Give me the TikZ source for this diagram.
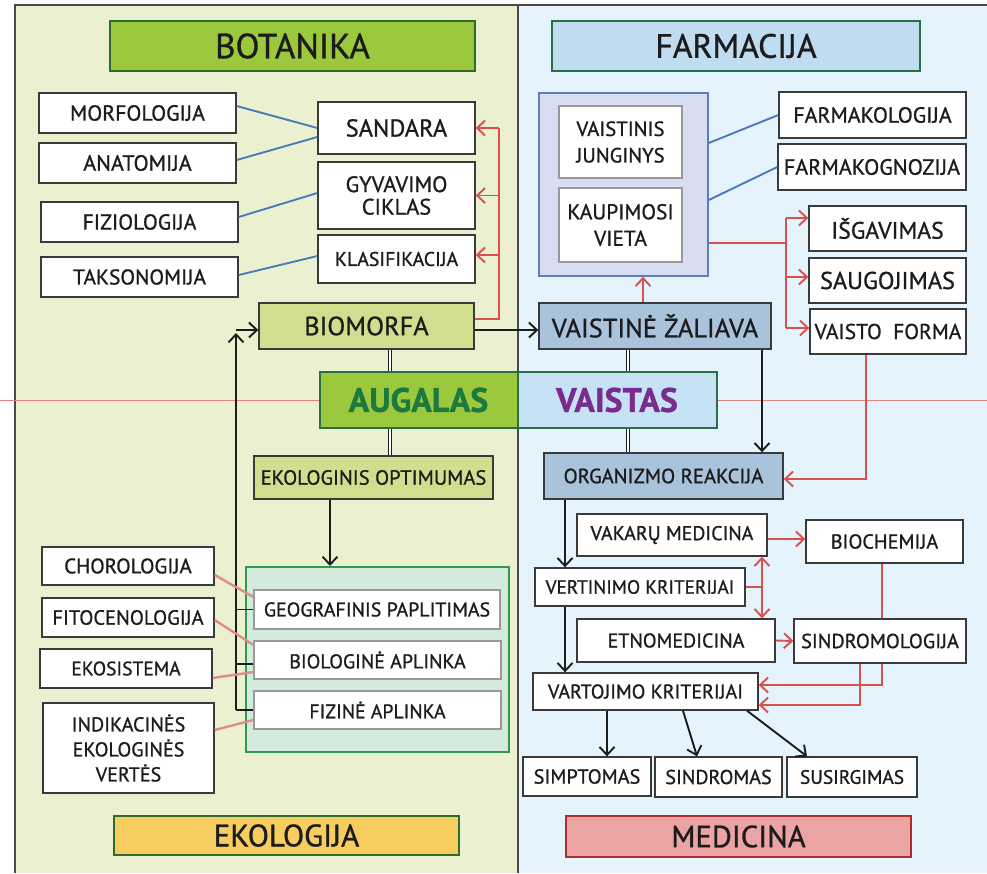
\documentclass[tikz,border=0pt]{standalone}
\usepackage{fontspec}
\setmainfont{PT Sans}[FakeBold=0.9]
\usepackage{graphicx}
\usetikzlibrary{arrows.meta,calc}
\definecolor{lbg}{HTML}{EBF1D0}
\definecolor{rbg}{HTML}{E5F3FC}
\definecolor{frame}{HTML}{4A4A4A}
\definecolor{bdr}{HTML}{3A3A3A}
\definecolor{txt}{HTML}{1C1C1C}
\definecolor{botf}{HTML}{9BC83C}
\definecolor{botd}{HTML}{2F6A2F}
\definecolor{farf}{HTML}{BFDCF0}
\definecolor{gdk}{HTML}{2A6E45}
\definecolor{ekof}{HTML}{F7CD5F}
\definecolor{medf}{HTML}{EBA3A3}
\definecolor{medd}{HTML}{A83030}
\definecolor{palg}{HTML}{CFDF8E}
\definecolor{steel}{HTML}{A9C3DC}
\definecolor{vaif}{HTML}{C6E2F5}
\definecolor{augt}{HTML}{1B7A3C}
\definecolor{vait}{HTML}{7A2C8E}
\definecolor{lav}{HTML}{D8DEF1}
\definecolor{lavd}{HTML}{5F7DB6}
\definecolor{teal}{HTML}{D3EADC}
\definecolor{teald}{HTML}{2F9A4C}
\definecolor{blu}{HTML}{4A7AB8}
\definecolor{rd}{HTML}{D9504C}
\definecolor{pnk}{HTML}{DE8C8C}
\definecolor{ltred}{HTML}{E38080}
\begin{document}
\begin{tikzpicture}[x=1pt,y=-1pt,
  fs/.style 2 args={font=\fontsize{#1}{#2}\selectfont},
  box/.style={draw=bdr,fill=white,line width=1.4pt,inner sep=0pt,align=center,text=txt,fs={20}{22}},
  gbox/.style={box,draw=gray!80,line width=1.2pt},
  ttl/.style={draw,line width=2pt,inner sep=0pt,text=txt},
  sz/.style 2 args={minimum width=#1,minimum height=#2},
  tip/.tip={Straight Barb[length=8pt,width=15pt]},
  blk/.style={draw=txt,line width=1.9pt},
  arr/.style={blk,-tip},
  rl/.style={draw=rd,line width=1.9pt},
  rarr/.style={rl,-tip},
  bl/.style={draw=blu,line width=1.9pt},
  pl/.style={draw=pnk,line width=2.4pt},
  dbl/.style={draw=txt,line width=0.9pt,double=white,double distance=2.6pt},
  big/.style={font={\fontsize{34}{36}\selectfont\bfseries}}
]
\useasboundingbox (0,0) rectangle (987,873);
% panels
\fill[lbg] (15,5) rectangle (518,873);
\fill[rbg] (518,5) rectangle (987,873);
\draw[frame,line width=2pt] (15,873) -- (15,5) -- (987,5);
\draw[frame,line width=2pt] (518,5) -- (518,873);
\draw[ltred,line width=1pt] (0,400) -- (987,400);

% titles
\node[ttl,fill=botf,draw=botd,sz={365}{50},fs={35}{36}] (bot) at (292.5,46) {BOTANIKA};
\node[ttl,fill=farf,draw=gdk,sz={368}{50},fs={33.7}{35}] (far) at (736,46) {FARMACIJA};
\node[ttl,fill=ekof,draw=botd,sz={345}{39},fs={31}{32}] (eko) at (286.5,835.5) {EKOLOGIJA};
\node[ttl,fill=medf,draw=medd,sz={345}{41},fs={30.6}{32}] (med) at (738.5,836.5) {MEDICINA};

% botany boxes
\node[box,sz={197}{40},fs={21.8}{24}] (morf) at (137.5,113) {MORFOLOGIJA};
\node[box,sz={197}{40},fs={22}{24}] (anat) at (137.5,163) {ANATOMIJA};
\node[box,sz={197}{40},fs={21.7}{24}] (fiz) at (139.5,222) {FIZIOLOGIJA};
\node[box,sz={197}{40},fs={21.4}{24}] (taks) at (139.5,277) {TAKSONOMIJA};
\node[box,sz={157}{52},fs={24.4}{26}] (sand) at (396.5,128) {SANDARA};
\node[box,sz={157}{67},fs={22.3}{22.5}] (gyv) at (396.5,195.5) {GYVAVIMO\\CIKLAS};
\node[box,sz={157}{48},fs={19.8}{22}] (klas) at (396.5,259) {KLASIFIKACIJA};
\node[box,fill=palg,sz={215}{46},fs={26.3}{28}] (biom) at (366.5,326) {BIOMORFA};

% centre
\node[box,fill=botf,draw=gdk,line width=2pt,sz={198}{56},text=augt,big] (aug) at (418.5,400) {AUGALAS};
\node[box,fill=vaif,draw=gdk,line width=2pt,sz={199}{56},text=vait,big] (vai) at (617,400) {VAISTAS};
\node[box,fill=palg,sz={239}{43},fs={20.5}{22}] (ekop) at (373.5,477.5) {EKOLOGINIS OPTIMUMAS};

% ecology
\node[draw=teald,fill=teal,line width=2pt,sz={263}{185}] (ekocont) at (377.5,659.5) {};
\node[gbox,sz={246}{39},fs={19.9}{22}] (geo) at (377,609.5) {GEOGRAFINIS PAPLITIMAS};
\node[gbox,sz={247}{38},fs={19.9}{22}] (bio) at (377.5,660) {BIOLOGINĖ APLINKA};
\node[gbox,sz={247}{38},fs={19.7}{22}] (fizap) at (377.5,710) {FIZINĖ APLINKA};
\node[box,sz={172}{38},fs={21}{23}] (chor) at (128,566) {CHOROLOGIJA};
\node[box,sz={172}{39},fs={20.5}{22}] (fito) at (128,617.5) {FITOCENOLOGIJA};
\node[box,sz={172}{39},fs={19.5}{22}] (ekos) at (126,668.5) {EKOSISTEMA};
\node[box,sz={171}{90},fs={20.1}{25}] (indik) at (128.5,748) {INDIKACINĖS\\EKOLOGINĖS\\VERTĖS};

% pharmacy
\node[draw=lavd,fill=lav,line width=1.6pt,sz={169}{183}] (farmcont) at (623.5,184.5) {};
\node[gbox,sz={123}{72},fs={20.6}{26.5}] (vj) at (620.5,142) {VAISTINIS\\JUNGINYS};
\node[gbox,sz={123}{74},fs={21.4}{26.5}] (kv) at (620.5,225) {KAUPIMOSI\\VIETA};
\node[box,sz={187}{46},fs={21.9}{24}] (fkol) at (872.5,115) {FARMAKOLOGIJA};
\node[box,sz={188}{46},fs={22.1}{24}] (fkog) at (872,167) {FARMAKOGNOZIJA};
\node[box,sz={157}{45},fs={23.7}{25}] (isg) at (887.5,228.5) {IŠGAVIMAS};
\node[box,sz={157}{45},fs={24.3}{26}] (saug) at (887.5,280.5) {SAUGOJIMAS};
\node[box,sz={156}{45},fs={21.5}{23}] (vf) at (888,331.5) {VAISTO\ \ FORMA};
\node[box,fill=steel,sz={232}{46},fs={26.4}{28}] (vz) at (655,326) {VAISTINĖ ŽALIAVA};

% medicine
\node[box,fill=steel,sz={239}{46},fs={20.6}{22}] (org) at (663.5,476) {ORGANIZMO REAKCIJA};
\node[box,sz={190}{42},fs={19.9}{22}] (vak) at (672,535) {VAKARŲ MEDICINA};
\node[box,sz={157}{43},fs={20.3}{22}] (bioch) at (884.5,541.5) {BIOCHEMIJA};
\node[box,sz={210}{38},fs={19.2}{21}] (vert) at (640,587) {VERTINIMO KRITERIJAI};
\node[box,sz={198}{43},fs={20}{22}] (etno) at (676,640.5) {ETNOMEDICINA};
\node[box,sz={172}{44},fs={20.3}{22}] (sindl) at (880,641) {SINDROMOLOGIJA};
\node[box,sz={225}{37},fs={19.9}{22}] (vart) at (645.5,691.5) {VARTOJIMO KRITERIJAI};
\node[box,sz={128}{39},fs={20.3}{22}] (simp) at (587,776.5) {SIMPTOMAS};
\node[box,sz={127}{40},fs={20.1}{22}] (sindr) at (718.5,777) {SINDROMAS};
\node[box,sz={130}{40},fs={19.4}{22}] (susi) at (852,777) {SUSIRGIMAS};

% --- connectors: botany
\draw[bl] ([yshift=7pt]morf.east) -- (sand.west);
\draw[bl] ([yshift=3pt]anat.east) -- ([yshift=-9pt]sand.west);
\draw[bl] ([yshift=5pt]fiz.east) -- ([yshift=2.5pt]gyv.west);
\draw[bl] ([yshift=2pt]taks.east) -- ([yshift=3pt]klas.west);
\draw[rl] ([yshift=7pt]biom.east) -- ++(24,0) coordinate (rb) -- (rb |- sand.east);
\draw[rarr] (rb |- sand.east) -- (sand.east);
\draw[rarr] (rb |- gyv.east) -- (gyv.east);
\draw[rarr] ([yshift=4pt]klas.east -| rb) -- ([yshift=4pt]klas.east);
\draw[arr] ([yshift=-4pt]biom.east) -- ([yshift=-4pt]vz.west);
% double links
\draw[dbl] ([xshift=23.5pt]biom.south) -- ([xshift=23.5pt]biom.south |- aug.north);
\draw[dbl] ([xshift=-28.5pt]aug.south) -- ([xshift=-28.5pt]aug.south |- ekop.north);
\draw[dbl] ([xshift=-27pt]vz.south) -- ([xshift=-27pt]vz.south |- vai.north);
\draw[dbl] ([xshift=11pt]vai.south) -- ([xshift=11pt]vai.south |- org.north);
% ecology
\draw[arr] ([xshift=-43.5pt]ekop.south) -- ([xshift=-43.5pt]ekop.south |- ekocont.north);
\coordinate (fbx) at (236,333);
\draw[arr] (fizap.west -| fbx) -- (fbx);
\draw[arr] ([yshift=-4pt]biom.west -| fbx) -- ([yshift=-4pt]biom.west);
\draw[blk] (geo.west -| fbx) -- (geo.west);
\draw[blk] ([yshift=-4pt]bio.west -| fbx) -- ([yshift=-4pt]bio.west);
\draw[blk] (fizap.west -| fbx) -- (fizap.west);
\draw[pl] ([yshift=-9pt]chor.east) -- ([yshift=12.5pt]geo.west);
\draw[pl] ([yshift=-2.5pt]fito.east) -- ([yshift=15pt]bio.west);
\draw[pl] ([yshift=-9.5pt]ekos.east) -- ([yshift=-12pt]bio.west);
\draw[pl] ([yshift=18pt]indik.east) -- ([yshift=-10pt]fizap.west);
% pharmacy
\draw[bl] ([yshift=41.5pt]farmcont.east) -- (fkol.west);
\draw[bl] ([yshift=-15.5pt]farmcont.east) -- (fkog.west);
\draw[rarr] ([xshift=-12pt]vz.north) -- ([xshift=-12pt]vz.north |- farmcont.south);
\draw[rl] ([yshift=-58.5pt]farmcont.east) -- ++(77,0) coordinate (rj);
\draw[rl] ([yshift=10.5pt]isg.west -| rj) -- ([yshift=3.5pt]vf.west -| rj);
\draw[rarr] ([yshift=10.5pt]isg.west -| rj) -- ([yshift=10.5pt]isg.west);
\draw[rarr] ([yshift=3.5pt]saug.west -| rj) -- ([yshift=3.5pt]saug.west);
\draw[rarr] ([yshift=3.5pt]vf.west -| rj) -- ([yshift=3.5pt]vf.west);
\draw[arr] ([xshift=107pt]vz.south) -- ([xshift=107pt]vz.south |- org.north);
\draw[rarr] ([xshift=-22pt]vf.south) |- ([yshift=-3pt]org.east);
% medicine
\draw[arr] ([xshift=-98.5pt]org.south) -- ([xshift=-98.5pt]org.south |- vert.north);
\draw[arr] ([xshift=-75pt]vert.south) -- ([xshift=-75pt]vert.south |- vart.north);
\draw[rarr] ([yshift=-4pt]vak.east) -- ([yshift=-4pt]vak.east -| bioch.west);
\coordinate (dx) at ([xshift=90pt]vak.south);
\draw[rl,tip-tip] (dx) -- (dx |- etno.north);
\draw[rl] (vert.east) -- (vert.east -| dx);
\draw[rarr] (etno.east) -- (sindl.west);
\draw[rl] ([xshift=-2.5pt]bioch.south) -- ([xshift=-2.5pt]bioch.south |- sindl.north);
\draw[rarr] ([xshift=-20pt]sindl.south) |- ([yshift=-13.5pt]vart.east);
\draw[rarr] ([xshift=2pt]sindl.south) |- ([yshift=6.5pt]vart.east);
\draw[arr] ([xshift=-38.5pt]vart.south) -- ([xshift=-38.5pt]vart.south |- simp.north);
\draw[arr] ([xshift=37.5pt]vart.south) -- ([xshift=-21.5pt]sindr.north);
\draw[arr] ([xshift=101.5pt]vart.south) -- ([xshift=-45pt]susi.north);
\end{tikzpicture}
\end{document}
